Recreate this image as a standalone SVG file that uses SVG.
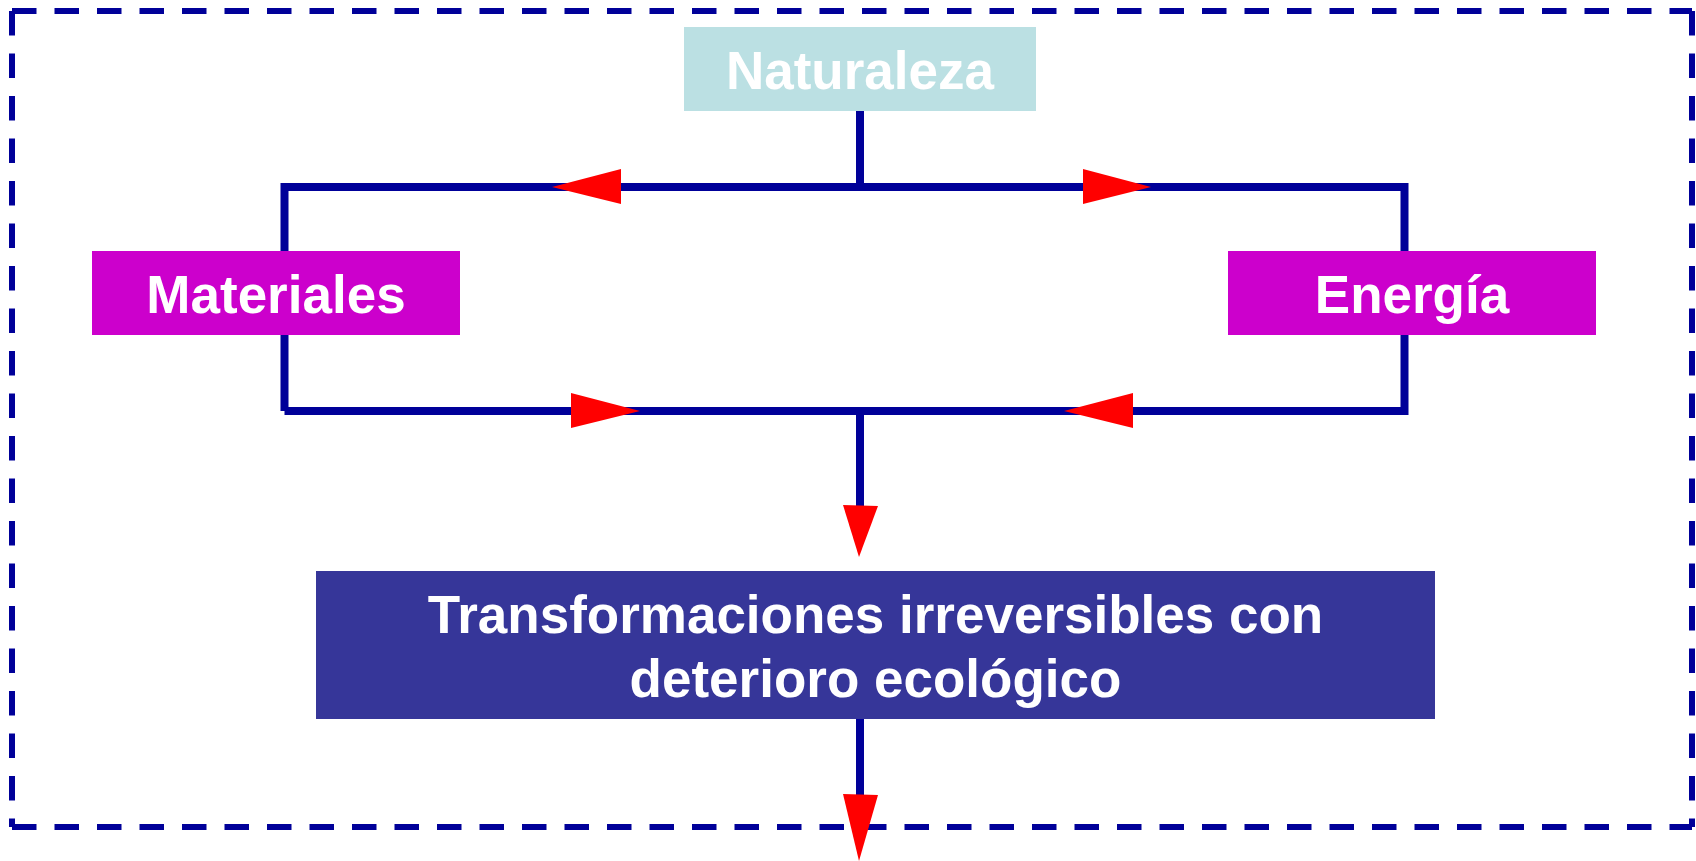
<svg xmlns="http://www.w3.org/2000/svg" width="1696" height="861" viewBox="0 0 1696 861">
<style>
.border{stroke:#000099;stroke-width:6;stroke-dasharray:24.5 18;fill:none}
.ln{stroke:#000099;stroke-width:8;fill:none;stroke-linejoin:miter}
.ah{fill:#FF0000}
.t{font-family:"Liberation Sans",Arial,sans-serif;font-weight:bold;font-size:53px;fill:#FFFFFF;text-anchor:middle}
</style>
<rect width="1696" height="861" fill="#FFFFFF"/>
<g id="frame">
<line class="border" x1="12" y1="11" x2="1692" y2="11"/>
<line class="border" x1="12" y1="11" x2="12" y2="827"/>
<line class="border" x1="1692" y1="11" x2="1692" y2="827"/>
<line class="border" x1="12" y1="827" x2="1692" y2="827"/>
</g>
<g id="connectors">
<line class="ln" x1="860" y1="111" x2="860" y2="187"/>
<polyline class="ln" points="284.5,411 284.5,187 1404.5,187 1404.5,411 284.5,411"/>
<line class="ln" x1="860" y1="411" x2="860" y2="510"/>
<line class="ln" x1="860" y1="719" x2="860" y2="798"/>
<polygon class="ah" points="552,187 621,169 621,204"/>
<polygon class="ah" points="1151,187 1083,169 1083,204"/>
<polygon class="ah" points="640,411 571,393 571,428"/>
<polygon class="ah" points="1064,411 1133,393 1133,428"/>
<polygon class="ah" points="843,505 878,506 859,557"/>
<polygon class="ah" points="843,794 878,795 859,861"/>
</g>
<g id="naturaleza">
<rect x="684" y="27" width="352" height="84" fill="#BBE0E3"/>
<text class="t" x="860" y="89">Naturaleza</text>
</g>
<g id="materiales">
<rect x="92" y="251" width="368" height="84" fill="#CC00CC"/>
<text class="t" x="276" y="313">Materiales</text>
</g>
<g id="energia">
<rect x="1228" y="251" width="368" height="84" fill="#CC00CC"/>
<text class="t" x="1412" y="313">Energía</text>
</g>
<g id="transformaciones">
<rect x="316" y="571" width="1119" height="148" fill="#363699"/>
<text class="t" x="875.5" y="633">Transformaciones irreversibles con</text>
<text class="t" x="875.5" y="697">deterioro ecológico</text>
</g>
</svg>
